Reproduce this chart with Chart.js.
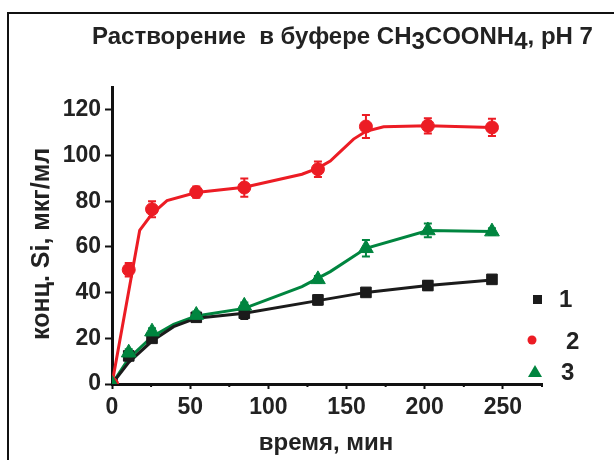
<!DOCTYPE html>
<html>
<head>
<meta charset="utf-8">
<script src="https://cdn.jsdelivr.net/npm/chart.js@4.4.1/dist/chart.umd.min.js"></script>
<style>
  html, body { margin: 0; padding: 0; background: #fff; }
  #wrap { position: relative; width: 614px; height: 460px; overflow: hidden; }
  #frame { position: absolute; left: 7px; top: 12px; width: 700px; height: 600px; border: 2px solid #111; }
  #c { position: absolute; left: 0; top: 0; }
</style>
</head>
<body>
<div id="wrap">
  <div id="frame"></div>
  <canvas id="c" width="614" height="460"></canvas>
</div>
<script>
// время отбора проб, мин
const tMark = [0, 10.7, 25.6, 53.9, 84.6, 131.7, 162.4, 202, 243];
// концентрация Si, мкг/мл (1, 2, 3)
const siBlack = [0, 12.3, 20.0, 29.2, 31.0, 36.8, 40.1, 43.1, 45.8];
const siRed   = [0, 50.0, 76.5, 84.0, 86.0, 94.0, 112.7, 113.0, 112.3];
const siGreen = [0, 13.7, 22.9, 30.2, 34.2, 45.8, 59.4, 67.2, 66.7];
// погрешности
const errBlack = [0, 1.5, 1.5, 1.5, 2.5, 2.0, 1.5, 2.0, 1.5];
const errRed   = [0, 3.0, 3.5, 2.5, 4.0, 3.4, 5.0, 3.3, 3.8];
const errGreen = [0, 1.5, 1.5, 1.5, 1.5, 1.5, 3.6, 3.0, 1.5];

// сглаженные кривые
const tCurveRed = [0, 17.7, 25.6, 35.2, 53.9, 84.6, 121.5, 131.7, 139.6, 146, 154.5, 162.4, 173.7, 202, 243];
const curveRed  = [0, 67.2, 74.5, 80.3, 83.8, 86.1, 91.8, 94.5, 97.6, 101.7, 107.2, 110.6, 112.6, 113.0, 112.3];
const tCurveBlack = [0, 10.7, 25.6, 39.4, 53.9, 84.6, 131.7, 162.4, 202, 243];
const curveBlack  = [0, 9.5, 18.8, 25.1, 28.8, 31.0, 36.5, 40.1, 43.1, 45.5];
const tCurveGreen = [0, 10.7, 25.6, 39.4, 53.9, 84.6, 121.5, 139.6, 162.4, 202, 243];
const curveGreen  = [0, 11.2, 20.7, 26.1, 29.8, 33.1, 42.6, 49.2, 59.4, 67.2, 66.7];

const xTicks = [0, 50, 100, 150, 200, 250];
const xMinor = [25, 75, 125, 175, 225, 275];
const yTicks = [0, 20, 40, 60, 80, 100, 120];

const seriesNames = ['1', '2', '3'];

const RED = '#ec1c24';
const GREEN = '#00853f';
const BLACK = '#1b1b1b';
const FONT = '"Liberation Sans", Arial, sans-serif';

function pts(xs, ys) {
  return xs.map((x, i) => ({ x: x, y: ys[i] }));
}

function markers(ys, err, color, style, r) {
  return {
    data: pts(tMark, ys),
    err: err,
    showLine: false,
    pointStyle: style,
    pointRadius: r,
    pointBackgroundColor: color,
    pointBorderColor: color,
    pointBorderWidth: 1
  };
}

function curve(xs, ys, color) {
  return {
    data: pts(xs, ys),
    showLine: true,
    borderColor: color,
    borderWidth: 3,
    pointRadius: 0,
    tension: 0
  };
}

// усы погрешностей рисуются перед маркерами своей серии
const errorBars = {
  id: 'errorBars',
  beforeDatasetDraw(chart, args) {
    const ds = chart.data.datasets[args.index];
    if (!ds.err) return;
    const ctx = chart.ctx, xs = chart.scales.x, ys = chart.scales.y;
    ctx.save();
    ctx.strokeStyle = ds.pointBorderColor;
    ctx.lineWidth = 2;
    ds.data.forEach((p, i) => {
      const e = ds.err[i];
      if (!e) return;
      const px = xs.getPixelForValue(p.x);
      const top = ys.getPixelForValue(p.y + e);
      const bot = ys.getPixelForValue(p.y - e);
      ctx.beginPath();
      ctx.moveTo(px, top); ctx.lineTo(px, bot);
      ctx.moveTo(px - 4, top); ctx.lineTo(px + 4, top);
      ctx.moveTo(px - 4, bot); ctx.lineTo(px + 4, bot);
      ctx.stroke();
    });
    ctx.restore();
  }
};

// заголовок с индексами, подписи осей, мелкие деления и легенда
const decor = {
  id: 'decor',
  afterDraw(chart) {
    const ctx = chart.ctx;
    const xs = chart.scales.x, ys = chart.scales.y;
    ctx.save();
    ctx.fillStyle = '#222';

    // заголовок
    const parts = [
      ['Растворение  в буфере CH', 0], ['3', 5], ['COONH', 0], ['4', 5], [', pH 7', 0]
    ];
    ctx.font = 'bold 24px ' + FONT;
    ctx.textBaseline = 'alphabetic';
    ctx.textAlign = 'left';
    let x = 92;
    parts.forEach(([s, dy]) => {
      ctx.fillText(s, x, 44 + dy);
      x += ctx.measureText(s).width;
    });

    // подпись оси X
    ctx.font = 'bold 24px ' + FONT;
    ctx.textAlign = 'center';
    ctx.fillText('время, мин', 326, 450);

    // подпись оси Y
    ctx.save();
    ctx.translate(49, 244);
    ctx.rotate(-Math.PI / 2);
    ctx.font = 'bold 25px ' + FONT;
    ctx.fillText('конц. Si, мкг/мл', 0, 0);
    ctx.restore();

    // мелкие деления оси X
    ctx.strokeStyle = '#111';
    ctx.lineWidth = 2;
    const y0 = ys.getPixelForValue(0);
    xMinor.forEach(v => {
      const px = xs.getPixelForValue(v);
      ctx.beginPath();
      ctx.moveTo(px, y0); ctx.lineTo(px, y0 + 3);
      ctx.stroke();
    });

    // легенда
    ctx.font = 'bold 24px ' + FONT;
    ctx.textAlign = 'left';
    ctx.textBaseline = 'middle';
    ctx.fillStyle = BLACK;
    ctx.fillRect(533, 295, 9, 9);
    ctx.fillStyle = '#222';
    ctx.fillText(seriesNames[0], 559, 300);

    ctx.fillStyle = RED;
    ctx.beginPath();
    ctx.arc(532, 340, 4.5, 0, Math.PI * 2);
    ctx.fill();
    ctx.fillStyle = '#222';
    ctx.fillText(seriesNames[1], 566, 342);

    ctx.fillStyle = GREEN;
    ctx.beginPath();
    ctx.moveTo(535, 365); ctx.lineTo(542, 377); ctx.lineTo(528, 377);
    ctx.closePath();
    ctx.fill();
    ctx.fillStyle = '#222';
    ctx.fillText(seriesNames[2], 561, 373);
    ctx.restore();
  }
};

new Chart(document.getElementById('c'), {
  type: 'scatter',
  data: {
    datasets: [
      markers(siGreen, errGreen, GREEN, 'triangle', 8.5),
      markers(siRed, errRed, RED, 'circle', 6.5),
      markers(siBlack, errBlack, BLACK, 'rect', 7.5),
      curve(tCurveBlack, curveBlack, BLACK),
      curve(tCurveGreen, curveGreen, GREEN),
      curve(tCurveRed, curveRed, RED)
    ]
  },
  options: {
    responsive: false,
    animation: false,
    layout: { padding: { top: 87, right: 72, left: 0, bottom: 0 } },
    plugins: { legend: { display: false }, tooltip: { enabled: false } },
    scales: {
      x: {
        type: 'linear', min: 0, max: 275,
        afterFit(s) { s.height = 76; },
        afterBuildTicks(s) { s.ticks = xTicks.map(v => ({ value: v })); },
        border: { color: '#111', width: 3 },
        grid: { drawOnChartArea: false, tickLength: 5, tickWidth: 2, tickColor: '#111' },
        ticks: { color: '#222', padding: 5, maxRotation: 0, font: { family: FONT, size: 23, weight: 'bold' } }
      },
      y: {
        type: 'linear', min: 0, max: 130,
        afterFit(s) { s.width = 112; },
        afterBuildTicks(s) { s.ticks = yTicks.map(v => ({ value: v })); },
        border: { color: '#111', width: 3 },
        grid: { drawOnChartArea: false, tickLength: 7, tickWidth: 2, tickColor: '#111' },
        ticks: { color: '#222', padding: 4, font: { family: FONT, size: 23, weight: 'bold' } }
      }
    }
  },
  plugins: [errorBars, decor]
});
</script>
</body>
</html>
